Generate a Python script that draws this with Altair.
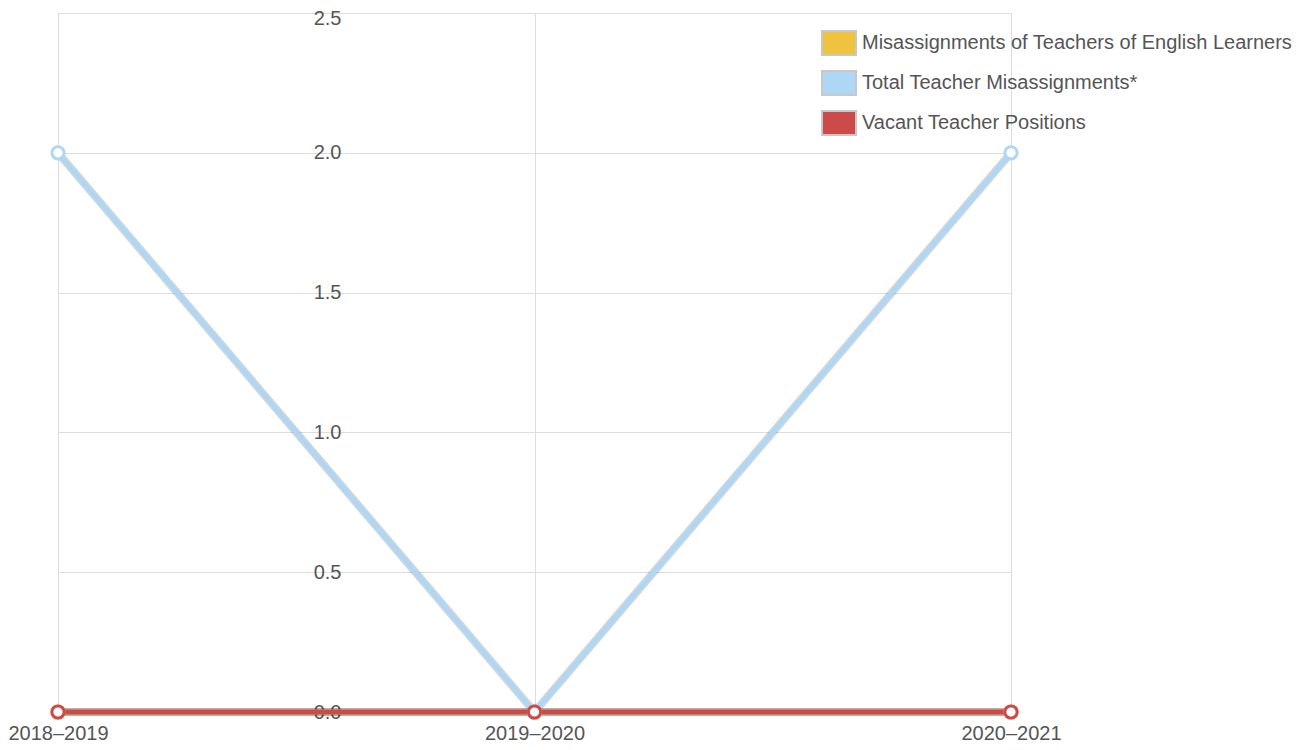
import altair as alt
import pandas as pd

years = ["2018–2019", "2019–2020", "2020–2021"]
series_names = [
    "Misassignments of Teachers of English Learners",
    "Total Teacher Misassignments*",
    "Vacant Teacher Positions",
]
el_misassignments = [0, 0, 0]
total_misassignments = [2, 0, 2]
vacant_positions = [0, 0, 0]
colors = ["#F0C33F", "#AED7F5", "#CC4A4A"]
swatch_border = ["#c8c8c8", "#c8c8c8", "#c8c8c8"]
y_ticks = [0, 0.5, 1.0, 1.5, 2.0, 2.5]

rows = []
for i, (name, vals) in enumerate(zip(series_names, [el_misassignments, total_misassignments, vacant_positions])):
    for j, (yr, v) in enumerate(zip(years, vals)):
        rows.append({"year": yr, "value": v, "series": name, "order": i})
df = pd.DataFrame(rows)

FONT = "Liberation Sans"
FS = 20

x_enc = alt.X("year:O", sort=years, scale=alt.Scale(type="point", padding=0),
              axis=alt.Axis(title=None, labelAngle=0, grid=True, ticks=False, domain=False,
                            labelPadding=11, labelFontSize=FS, labelColor="#555",
                            labelFont=FONT, gridColor="#dddddd"))
y_enc = alt.Y("value:Q", scale=alt.Scale(domain=[0, 2.5], nice=False, zero=True),
              axis=alt.Axis(title=None, values=y_ticks, format=".1f", ticks=False, domain=False,
                            labelPadding=-283, labelFontSize=FS, labelColor="#555",
                            labelFont=FONT, gridColor="#dddddd", labelBaseline="middle",
                            labelOffset={"condition": {"test": "datum.value == 2.5", "value": 5}, "value": 0}))
color_scale = alt.Scale(domain=series_names, range=colors)

legend_def = alt.Legend(title=None, orient="none", legendX=763, legendY=12,
                        symbolType="M-1,-0.7H1V0.7H-1Z", symbolSize=1156,
                        symbolStrokeWidth=2, symbolOpacity=1,
                        labelFontSize=FS, labelColor="#555",
                        labelFont=FONT, labelOffset=5, rowPadding=6,
                        labelLimit=600)

base = alt.Chart(df)

legend_layer = base.mark_square(size=0, opacity=0, strokeWidth=2, filled=True).encode(
    x=x_enc, y=y_enc,
    fill=alt.Fill("series:N", sort=series_names, scale=color_scale, legend=legend_def),
    stroke=alt.Stroke("series:N", sort=series_names,
                      scale=alt.Scale(domain=series_names, range=swatch_border),
                      legend=legend_def))

shadow = base.mark_line(strokeWidth=8, color="#000000", opacity=0.16).encode(
    x=x_enc, y=y_enc, detail="series:N", order="order:Q")
lines = base.mark_line(strokeWidth=5, opacity=1).encode(
    x=x_enc, y=y_enc,
    color=alt.Color("series:N", scale=color_scale, legend=None),
    order=alt.Order("order:Q"))
points = base.mark_point(filled=False, fill="white", fillOpacity=1, strokeWidth=3,
                         size=150, opacity=1).encode(
    x=x_enc, y=y_enc,
    color=alt.Color("series:N", scale=color_scale, legend=None),
    order=alt.Order("order:Q"))

chart = alt.layer(legend_layer, shadow, lines, points).resolve_scale(
    color="independent", stroke="independent", fill="independent"
).properties(
    width=953, height=699,
    autosize=alt.AutoSizeParams(type="none"),
    padding={"left": 50, "top": 5, "right": 283, "bottom": 30},
).configure_view(stroke=None).configure(font=FONT)

chart.save("out.html", embed_options={"renderer": "svg", "actions": False})
